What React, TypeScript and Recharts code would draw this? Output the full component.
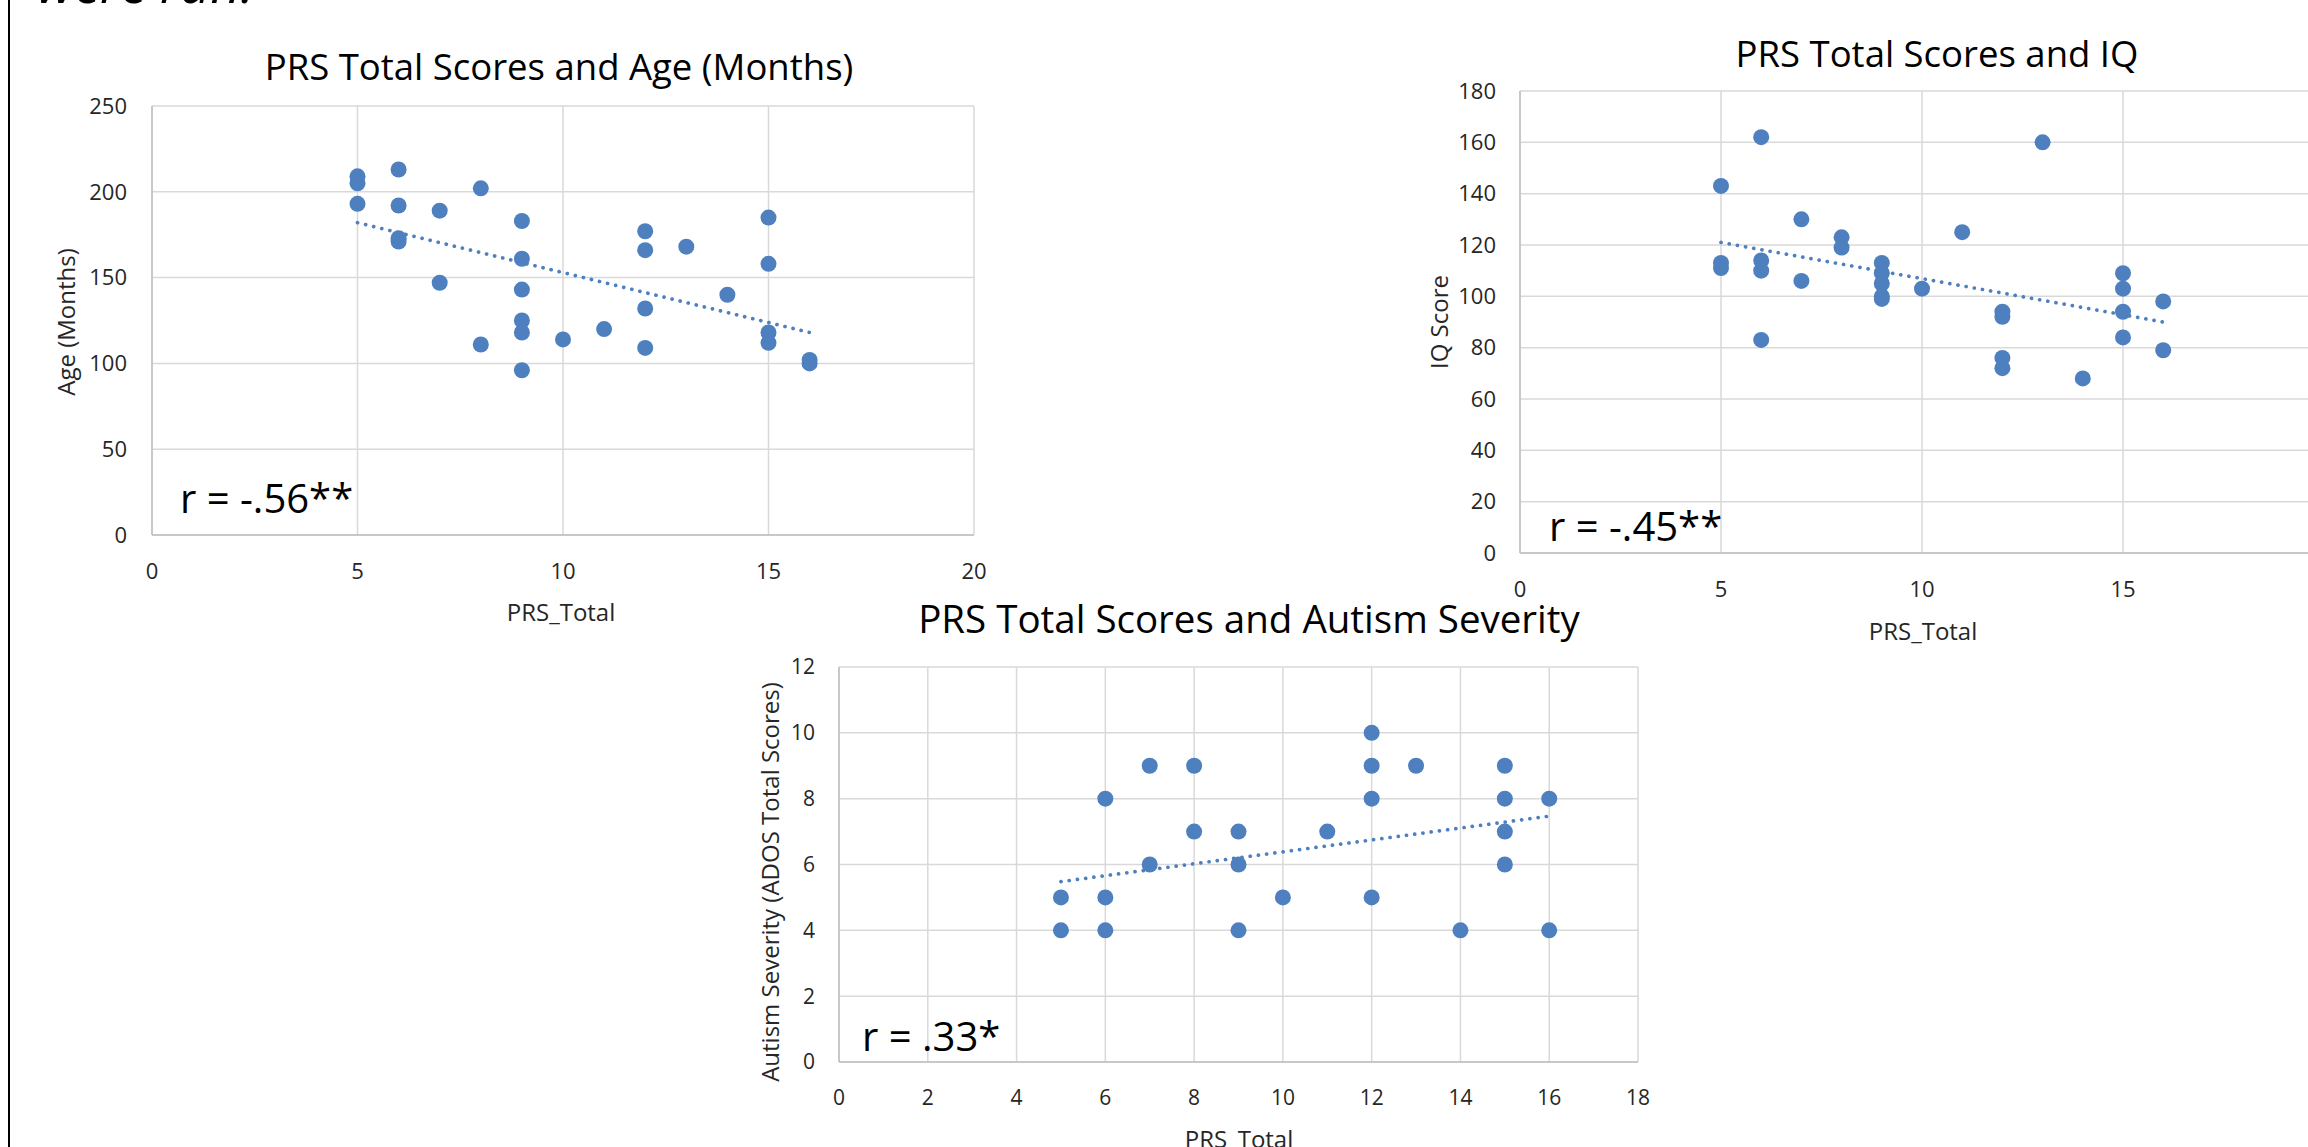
import React from "react";
import {
  ComposedChart,
  Scatter,
  Line,
  XAxis,
  YAxis,
  CartesianGrid,
} from "recharts";

const FONT = "'Open Sans', 'Noto Sans', sans-serif";
const BLUE = "#4E80BF";

// PRS Total vs Age (Months)
const agePrs = [5, 5, 5, 6, 6, 6, 6, 7, 7, 8, 8, 9, 9, 9, 9, 9, 9, 10, 11, 12, 12, 12, 12, 13, 14, 15, 15, 15, 15, 16, 16];
const ageMonths = [209, 205, 193, 213, 192, 173, 171, 189, 147, 202, 111, 183, 161, 143, 125, 118, 96, 114, 120, 177, 166, 132, 109, 168, 140, 185, 158, 118, 112, 102, 100];
const ageTrendX = [5, 16];
const ageTrendY = [182, 118];
const ageXTicks = [0, 5, 10, 15, 20];
const ageYTicks = [0, 50, 100, 150, 200, 250];

// PRS Total vs IQ
const iqPrs = [5, 5, 5, 6, 6, 6, 6, 7, 7, 8, 8, 9, 9, 9, 9, 9, 10, 11, 12, 12, 12, 12, 13, 14, 15, 15, 15, 15, 16, 16];
const iqScore = [143, 113, 111, 162, 114, 110, 83, 130, 106, 123, 119, 113, 109, 105, 100, 99, 103, 125, 94, 92, 76, 72, 160, 68, 109, 103, 94, 84, 98, 79];
const iqTrendX = [5, 16];
const iqTrendY = [121, 90];
const iqXTicks = [0, 5, 10, 15, 20];
const iqYTicks = [0, 20, 40, 60, 80, 100, 120, 140, 160, 180];

// PRS Total vs ADOS total
const adosPrs = [5, 5, 6, 6, 6, 7, 7, 8, 8, 9, 9, 9, 10, 11, 12, 12, 12, 12, 13, 14, 15, 15, 15, 15, 16, 16];
const adosScore = [5, 4, 8, 5, 4, 9, 6, 9, 7, 7, 6, 4, 5, 7, 10, 9, 8, 5, 9, 4, 9, 8, 7, 6, 8, 4];
const adosTrendX = [5, 16];
const adosTrendY = [5.48, 7.47];
const adosXTicks = [0, 2, 4, 6, 8, 10, 12, 14, 16, 18];
const adosYTicks = [0, 2, 4, 6, 8, 10, 12];

const Dot = (props: any) => (
  <circle cx={props.cx} cy={props.cy} r={8} fill={BLUE} />
);

function centered(x: number, y: number, extra: React.CSSProperties = {}): React.CSSProperties {
  return {
    position: "absolute",
    left: x,
    top: y,
    transform: "translate(-50%, -50%)",
    whiteSpace: "nowrap",
    lineHeight: 1,
    ...extra,
  };
}

function Panel({ p }: { p: any }) {
  const YW = 80;
  const MT = 20;
  const MR = 20;
  const XH = 70;
  const data = p.xs.map((x: number, i: number) => ({ x, y: p.ys[i] }));
  const trend = p.trendX.map((x: number, i: number) => ({ x, y: p.trendY[i] }));
  const tick = { fill: "#262626", fontSize: p.tickSize, fontFamily: FONT };
  const axisLine = { stroke: "#bfbfbf", strokeWidth: 1.5 };

  return (
    <>
      <div style={{ position: "absolute", left: p.left - YW, top: p.top - MT }}>
        <ComposedChart
          width={YW + p.w + MR}
          height={MT + p.h + XH}
          margin={{ top: MT, right: MR, left: 0, bottom: 0 }}
        >
          <CartesianGrid stroke="#d9d9d9" strokeWidth={1.5} />
          <XAxis
            type="number"
            dataKey="x"
            domain={[p.xTicks[0], p.xTicks[p.xTicks.length - 1]]}
            ticks={p.xTicks}
            interval={0}
            height={XH}
            tickLine={false}
            tickSize={0}
            tickMargin={28}
            axisLine={axisLine}
            tick={tick}
            allowDataOverflow
          />
          <YAxis
            type="number"
            dataKey="y"
            domain={[p.yTicks[0], p.yTicks[p.yTicks.length - 1]]}
            ticks={p.yTicks}
            interval={0}
            width={YW}
            tickLine={false}
            tickSize={0}
            tickMargin={p.yGap}
            axisLine={axisLine}
            tick={tick}
            allowDataOverflow
          />
          <Scatter data={data} shape={Dot} isAnimationActive={false} />
          <Line
            data={trend}
            dataKey="y"
            type="linear"
            stroke={BLUE}
            strokeWidth={3.7}
            strokeDasharray="0.1 8.2"
            strokeLinecap="round"
            dot={false}
            activeDot={false}
            isAnimationActive={false}
          />
        </ComposedChart>
      </div>
      <div style={centered(p.titleX, p.titleY, { fontSize: p.titleSize, color: "#000" })}>
        {p.title}
      </div>
      <div
        style={{
          ...centered(p.yLabelX, p.yLabelY, { fontSize: 24, color: "#262626" }),
          transform: "translate(-50%, -50%) rotate(-90deg)",
        }}
      >
        {p.yLabel}
      </div>
      <div style={centered(p.xLabelX, p.xLabelY, { fontSize: 24, color: "#262626" })}>
        PRS_Total
      </div>
      <div
        style={{
          position: "absolute",
          left: p.rX,
          top: p.rY,
          transform: "translateY(-50%)",
          fontSize: 40,
          lineHeight: 1,
          color: "#000",
          whiteSpace: "nowrap",
        }}
      >
        {p.rText}
      </div>
    </>
  );
}

const panels = [
  {
    xs: agePrs, ys: ageMonths, trendX: ageTrendX, trendY: ageTrendY,
    xTicks: ageXTicks, yTicks: ageYTicks,
    left: 152, top: 106, w: 822, h: 429, tickSize: 22, yGap: 25,
    title: "PRS Total Scores and Age (Months)", titleX: 559, titleY: 66, titleSize: 36.5,
    yLabel: "Age (Months)", yLabelX: 66, yLabelY: 322,
    xLabelX: 561, xLabelY: 612,
    rText: "r = -.56**", rX: 180, rY: 498,
  },
  {
    xs: iqPrs, ys: iqScore, trendX: iqTrendX, trendY: iqTrendY,
    xTicks: iqXTicks, yTicks: iqYTicks,
    left: 1520, top: 91, w: 804, h: 462, tickSize: 22, yGap: 24,
    title: "PRS Total Scores and IQ", titleX: 1937, titleY: 53, titleSize: 36.5,
    yLabel: "IQ Score", yLabelX: 1439, yLabelY: 322,
    xLabelX: 1923, xLabelY: 631,
    rText: "r = -.45**", rX: 1549, rY: 526,
  },
  {
    xs: adosPrs, ys: adosScore, trendX: adosTrendX, trendY: adosTrendY,
    xTicks: adosXTicks, yTicks: adosYTicks,
    left: 839, top: 667, w: 799, h: 395, tickSize: 21, yGap: 24,
    title: "PRS Total Scores and Autism Severity", titleX: 1249, titleY: 618, titleSize: 38.5,
    yLabel: "Autism Severity (ADOS Total Scores)", yLabelX: 770, yLabelY: 882,
    xLabelX: 1239, xLabelY: 1139,
    rText: "r = .33*", rX: 862, rY: 1036,
  },
];

export default function App() {
  return (
    <div
      style={{
        position: "fixed",
        left: 0,
        top: 0,
        width: 2308,
        height: 1147,
        overflow: "hidden",
        background: "#fff",
        fontFamily: FONT,
      }}
    >
      <div
        style={{
          position: "absolute",
          left: 37,
          top: -43,
          fontSize: 52,
          lineHeight: 1,
          fontStyle: "italic",
          color: "#000",
          whiteSpace: "nowrap",
        }}
      >
        were run.
      </div>
      <div style={{ position: "absolute", left: 8, top: 0, width: 2, height: 1147, background: "#000" }} />
      {panels.map((p, i) => (
        <Panel key={i} p={p} />
      ))}
    </div>
  );
}
